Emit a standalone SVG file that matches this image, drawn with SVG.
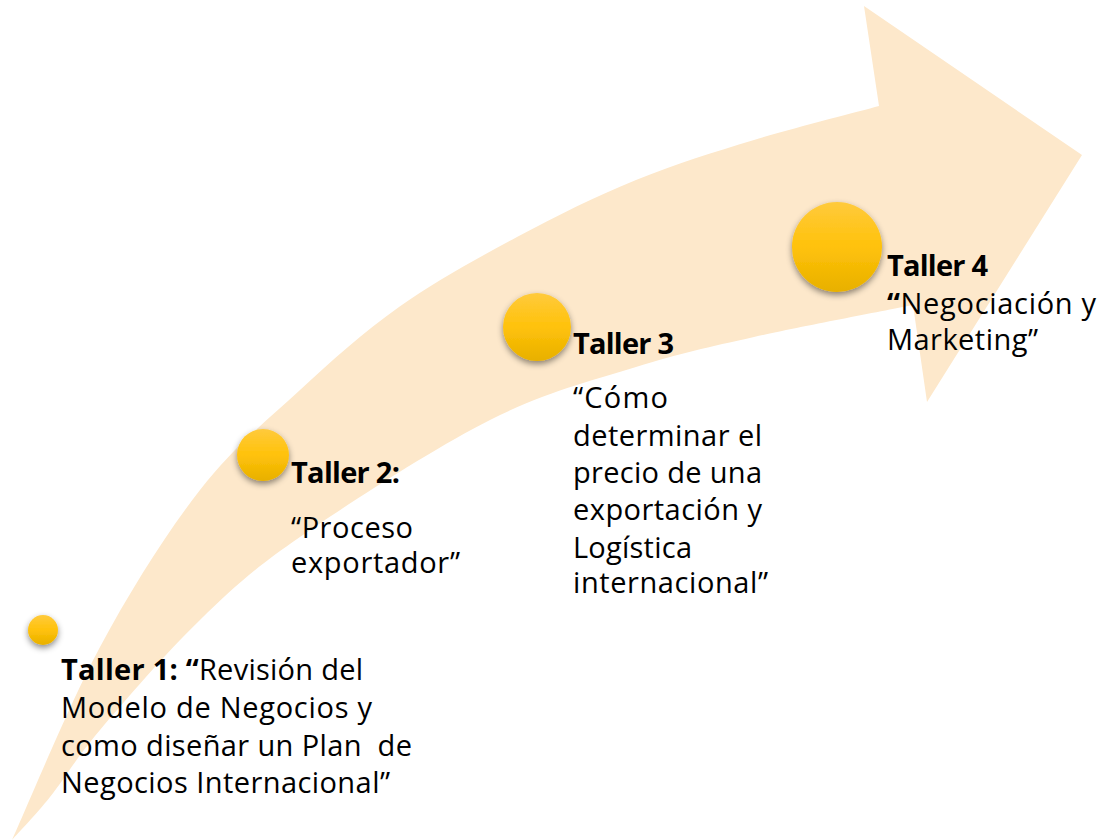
<svg xmlns="http://www.w3.org/2000/svg" width="1099" height="840" viewBox="0 0 1099 840">
  <defs>
    <linearGradient id="gold" x1="0" y1="0" x2="0" y2="1">
      <stop offset="0" stop-color="#FFCA3C"/>
      <stop offset="0.5" stop-color="#FFC20A"/>
      <stop offset="1" stop-color="#E8B000"/>
    </linearGradient>
    <filter id="shadow" x="-40%" y="-40%" width="180%" height="190%">
      <feDropShadow dx="0" dy="3" stdDeviation="3" flood-color="#000" flood-opacity="0.45"/>
    </filter>
    <style>
      .dot { fill: url(#gold); filter: url(#shadow); }
      text { font-family: "Open Sans", "Liberation Sans", sans-serif; font-size: 29px; fill: #000; }
      .b { font-weight: bold; }
      .band { fill: #FDE8CB; }
    </style>
  </defs>
  <rect width="1099" height="840" fill="#FFFFFF"/>
  <g id="arrow">
    <path class="band" d="M12,840 C26.7,807.8 68.7,705.3 100,647 C131.3,588.7 166.7,532.8 200,490 C233.3,447.2 266.8,420.5 300,390 C333.2,359.5 362.8,332.5 399,307 C435.2,281.5 477.5,258.2 517,237 C556.5,215.8 596.5,196.2 636,180 C675.5,163.8 713.5,152.3 754,140 C794.5,127.7 858.2,111.7 879,106 L864,6 L1082,155 L927,402 L913,305 C886.5,310.3 800.2,326.7 754,337 C707.8,347.3 680,353.2 636,367 C592,380.8 546,391.7 490,420 C434,448.3 348.3,503.7 300,537 C251.7,570.3 233.3,587.8 200,620 C166.7,652.2 125,700.5 100,730 C75,759.5 64.7,778.7 50,797 C35.3,815.3 18.3,832.8 12,840 Z"/>
  </g>
  <g id="connectors"/>
  <g id="taller1">
    <circle class="dot" cx="43" cy="630" r="15"/>
    <text x="61" y="680" textLength="302"><tspan class="b">Taller 1: “</tspan>Revisión del</text>
    <text x="61" y="718" textLength="311">Modelo de Negocios y</text>
    <text x="61" y="756" textLength="351" xml:space="preserve">como diseñar un Plan  de</text>
    <text x="61" y="793" textLength="329">Negocios Internacional”</text>
  </g>
  <g id="taller2">
    <circle class="dot" cx="263" cy="455" r="26"/>
    <text class="b" x="291" y="483" textLength="109">Taller 2:</text>
    <text x="291" y="538" textLength="122">“Proceso</text>
    <text x="291" y="573" textLength="169">exportador”</text>
  </g>
  <g id="taller3">
    <circle class="dot" cx="537" cy="327" r="34"/>
    <text class="b" x="573" y="354" textLength="101">Taller 3</text>
    <text x="573" y="408" textLength="95">“Cómo</text>
    <text x="573" y="446" textLength="189">determinar el</text>
    <text x="573" y="483" textLength="189">precio de una</text>
    <text x="573" y="520" textLength="189">exportación y</text>
    <text x="573" y="558" textLength="119">Logística</text>
    <text x="573" y="593" textLength="195">internacional”</text>
  </g>
  <g id="taller4">
    <circle class="dot" cx="837" cy="247" r="45"/>
    <text class="b" x="887" y="276" textLength="101">Taller 4</text>
    <text x="887" y="314" textLength="209"><tspan class="b">“</tspan>Negociación y</text>
    <text x="887" y="350" textLength="151">Marketing”</text>
  </g>
</svg>
